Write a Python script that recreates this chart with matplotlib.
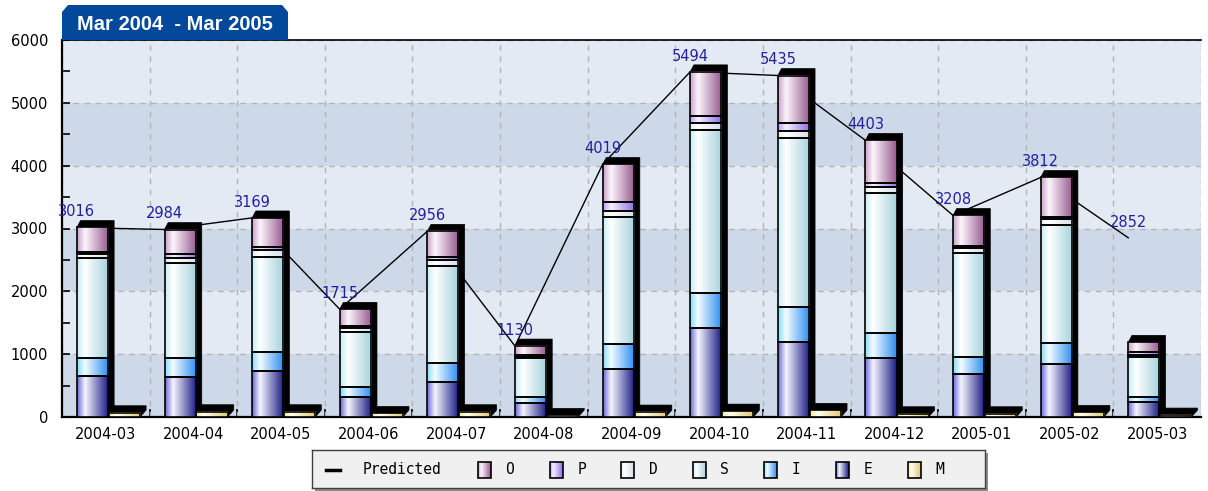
import numpy as np
import matplotlib.pyplot as plt
from matplotlib.colors import LinearSegmentedColormap
from matplotlib.patches import Polygon, Rectangle

# values
months = ['2004-03', '2004-04', '2004-05', '2004-06', '2004-07', '2004-08', '2004-09',
          '2004-10', '2004-11', '2004-12', '2005-01', '2005-02', '2005-03']
predicted = [3016, 2984, 3169, 1715, 2956, 1130, 4019, 5494, 5435, 4403, 3208, 3812, 2852]

seg_E = [658, 632, 737, 314, 552, 218, 759, 1412, 1199, 944, 684, 839, 244]
seg_I = [286, 312, 303, 159, 313, 105, 398, 557, 557, 388, 266, 344, 79]
seg_S = [1592, 1513, 1512, 885, 1539, 611, 2022, 2600, 2681, 2229, 1656, 1869, 637]
seg_D = [54, 80, 105, 60, 90, 28, 105, 116, 121, 96, 79, 95, 27]
seg_P = [32, 58, 54, 31, 48, 20, 144, 107, 127, 63, 37, 42, 43]
seg_O = [394, 389, 458, 266, 414, 148, 591, 702, 750, 683, 486, 623, 159]
seg_M = [69, 85, 85, 58, 85, 27, 80, 95, 106, 53, 53, 75, 32]

legend_names = ['O', 'P', 'D', 'S', 'I', 'E', 'M']

# gradient colours (left edge, highlight, right edge)
grad_cols = {
    'O': ('#c9a2c9', '#fdf6fd', '#955a8e'),
    'P': ('#b9a3f2', '#f6f2ff', '#8d6fe0'),
    'D': ('#eeeeee', '#ffffff', '#d6dee4'),
    'S': ('#c4eef6', '#ffffff', '#a6d2dc'),
    'I': ('#86dcff', '#f4fcff', '#2c8cf0'),
    'E': ('#6a6ad4', '#f6f6ff', '#1a1a84'),
    'M': ('#f6e6a0', '#fffff2', '#e0c872'),
}
cmaps = {k: LinearSegmentedColormap.from_list(k, [(0, c[0]), (0.25, c[1]), (1, c[2])])
         for k, c in grad_cols.items()}
grad = np.linspace(0, 1, 64)[None, :]

W, H = 1208, 491
fig = plt.figure(figsize=(W / 100, H / 100), dpi=100)
fig.patch.set_facecolor('white')
ax = fig.add_axes([62 / W, (H - 417) / H, 1139 / W, 377 / H])

x = np.arange(len(months))
main_left = x - 0.33
m_left = x + 0.035
bw = 0.355
dx, dy = 0.07, 110

# background bands
for k in range(6):
    ax.axhspan(k * 1000, (k + 1) * 1000, color='#cdd9e8' if k % 2 == 0 else '#e4eaf3', zorder=0, lw=0)

ax.set_axisbelow(True)
ax.grid(True, which='major', axis='y', color='#b4b4b4', ls=(0, (4, 4)), lw=1)
for b in np.arange(-0.5, 13, 1.0):
    ax.axvline(b, color='#b4b4b4', ls=(0, (4, 4)), lw=1, zorder=1)


def fill_gradient(patch, cmap, z):
    bb = patch.get_bbox()
    if bb.height <= 0:
        return
    ax.imshow(grad, cmap=cmap, extent=[bb.x0, bb.x1, bb.y0, bb.y1],
              aspect='auto', zorder=z, interpolation='bilinear')


def shadow(x0, x1, top):
    pts = [(x0, top), (x0 + dx * 0.6, top + dy), (x1 + dx, top + dy), (x1 + dx, dy), (x1, 0)]
    ax.add_patch(Polygon(pts, closed=True, fc='black', ec='black', lw=0.5, zorder=3))


stack = [('E', seg_E), ('I', seg_I), ('S', seg_S), ('D', seg_D), ('P', seg_P), ('O', seg_O)]
totals = np.sum([v for _, v in stack], axis=0)
for i in range(len(months)):
    shadow(main_left[i], main_left[i] + bw, totals[i])
    shadow(m_left[i], m_left[i] + bw, seg_M[i])

bottom = np.zeros(len(months))
for name, vals in stack:
    bars = ax.bar(main_left, vals, width=bw, bottom=bottom, align='edge',
                  facecolor='none', edgecolor='black', lw=1.2, zorder=4.5)
    for p in bars:
        fill_gradient(p, cmaps[name], 4)
    bottom += np.array(vals)

bars = ax.bar(m_left, seg_M, width=bw, align='edge', facecolor='none',
              edgecolor='black', lw=1.2, zorder=4.5)
for p in bars:
    fill_gradient(p, cmaps['M'], 4)

# predicted line
ax.plot(main_left, predicted, color='black', lw=1, zorder=2.5)
for xi, v in zip(main_left, predicted):
    ax.annotate(str(v), (xi, v), xytext=(0, 8), textcoords='offset points',
                ha='center', va='baseline', color='#2020a0', fontsize=10.5, zorder=6)

ax.set_xlim(-0.5, 12.5)
ax.set_ylim(0, 6000)
ax.set_yticks(np.arange(0, 6001, 1000))
ax.set_yticks(np.arange(500, 6000, 1000), minor=True)
ax.tick_params(axis='y', which='both', direction='in', length=6, width=1.2, pad=10, labelsize=10.5)
ax.set_xticks(x)
ax.set_xticklabels(months)
ax.set_xticks(np.arange(0.5, 12, 1.0), minor=True)
ax.tick_params(axis='x', which='major', length=0, pad=7, labelsize=10.5)
ax.tick_params(axis='x', which='minor', direction='in', length=6, width=1.2)
for s in ['left', 'bottom']:
    ax.spines[s].set_linewidth(1.6)
ax.spines['top'].set_linewidth(1.2)
ax.spines['right'].set_visible(False)

# title tab
def fpt(px, py):
    return (px / W, 1 - py / H)

tab = [fpt(62, 40), fpt(62, 12), fpt(68, 5), fpt(282, 5), fpt(288, 12), fpt(288, 40)]
fig.add_artist(Polygon(tab, closed=True, transform=fig.transFigure, fc='#03489b', ec='none', zorder=5))
fig.text(175 / W, 1 - 24 / H, 'Mar 2004  - Mar 2005', color='white', fontsize=14.5,
         fontweight='bold', family='Liberation Sans', ha='center', va='center', zorder=6)

# legend
fig.add_artist(Rectangle((315 / W, (H - 491) / H), 673 / W, 38 / H, transform=fig.transFigure,
                         fc='#8c8c8c', ec='none', zorder=-1))
lg = fig.add_axes([312 / W, (H - 488) / H, 673 / W, 38 / H])
lg.set_facecolor('#f0f0f0')
for s in lg.spines.values():
    s.set_color('#404040')
    s.set_linewidth(1)
lg.plot([13.5, 28], [20, 20], color='black', lw=2.5)
lg.text(51, 20, 'Predicted', family='DejaVu Sans Mono', fontsize=10.5, va='center', ha='left')
for k, name in enumerate(legend_names):
    bx = 166 + k * 71.6
    lg.imshow(grad, cmap=cmaps[name], extent=[bx, bx + 13, 28, 12], aspect='auto',
              interpolation='bilinear')
    lg.add_patch(Rectangle((bx, 12), 13, 16, fc='none', ec='black', lw=1.2))
    lg.text(bx + 32, 20, name, family='DejaVu Sans Mono', fontsize=10.5, va='center', ha='center')
lg.set_xlim(0, 673)
lg.set_ylim(38, 0)
lg.set_xticks([])
lg.set_yticks([])

fig.savefig('out.png', dpi=100)
